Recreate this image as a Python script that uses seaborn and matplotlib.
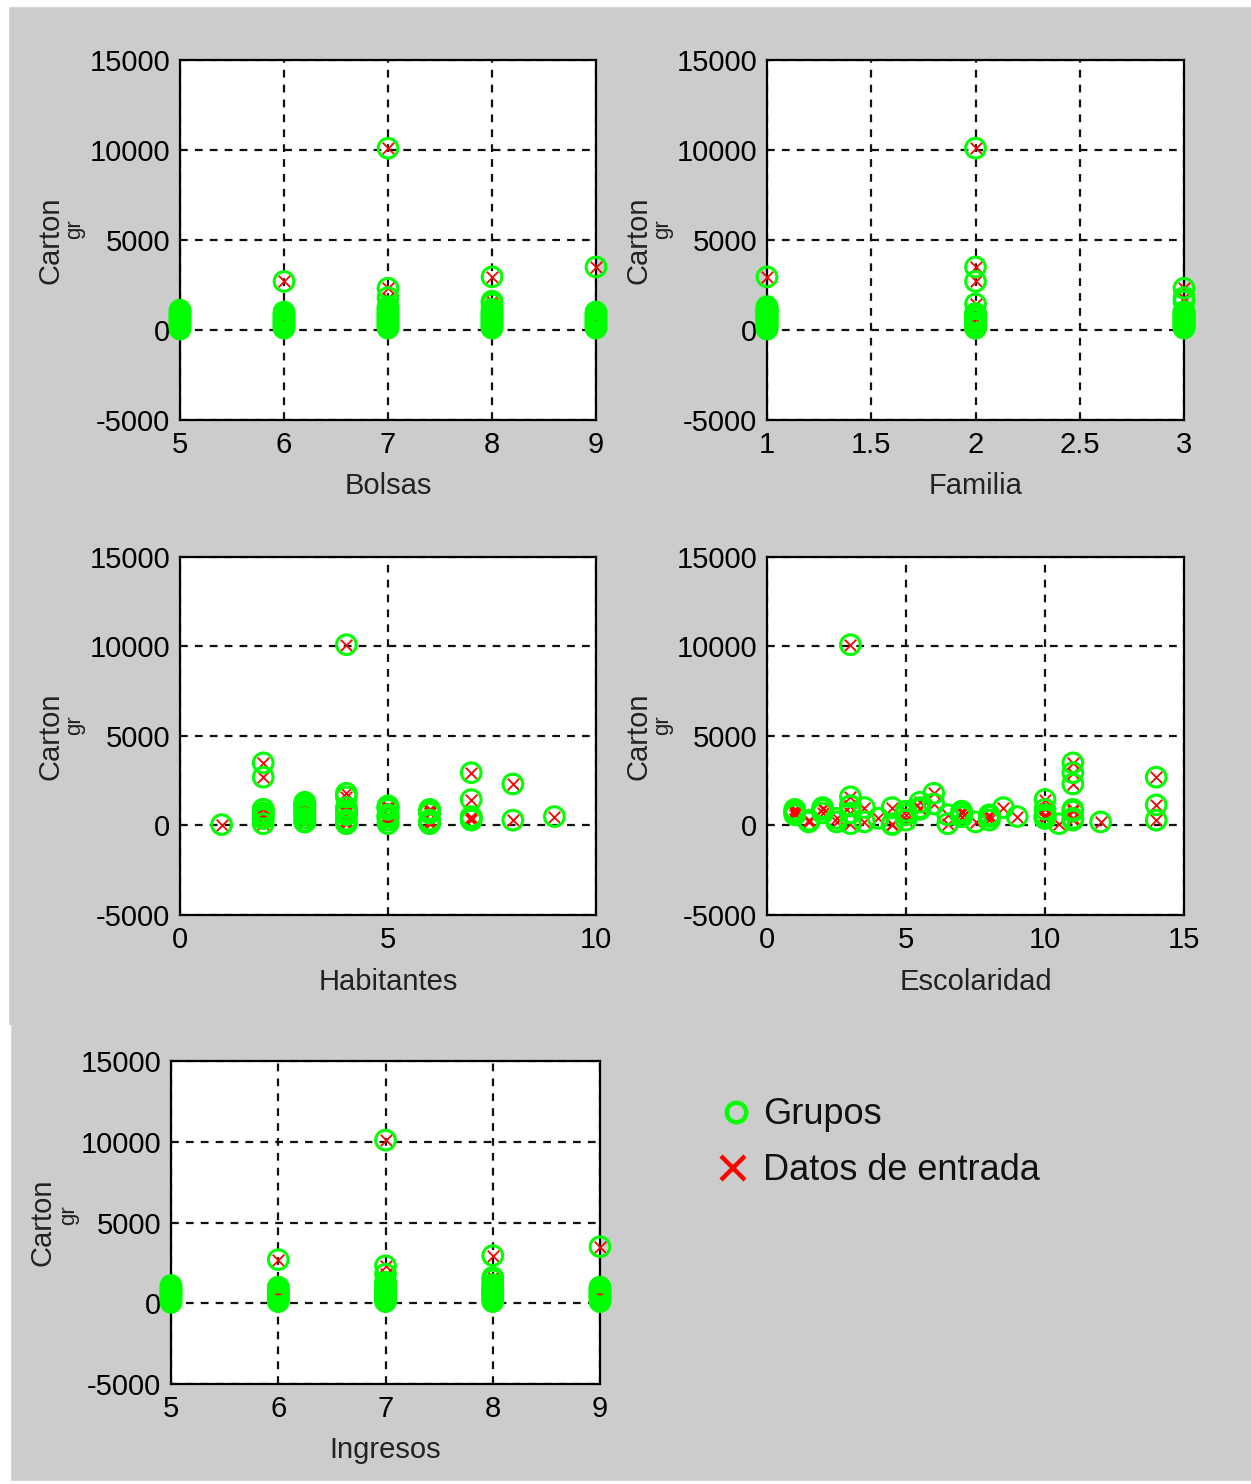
import matplotlib
matplotlib.use("Agg")
import matplotlib.pyplot as plt
import seaborn as sns
import pandas as pd
from matplotlib import font_manager
from matplotlib.patches import Rectangle
from matplotlib.ticker import FuncFormatter

# ---- data (one row per household) ----
carton = [10100, 3500, 2950, 2700, 2320, 1800, 1450, 1600,
          1100, 1000, 900, 800, 700, 600, 500, 400, 300, 200, 50,
          1000, 900, 800, 700, 600, 500, 400, 300, 200, 100,
          1300, 1200, 1100, 1000, 900, 800, 700, 600, 500, 400, 300, 200, 100,
          1150, 1000, 900, 800, 700, 600, 500, 400, 300, 200, 100,
          1000, 900, 800, 700, 600, 500, 400, 300, 200, 100]
bolsas = [7, 9, 8, 6, 7, 7, 8, 8,
          5, 5, 5, 5, 5, 5, 5, 5, 5, 5, 5,
          6, 6, 6, 6, 6, 6, 6, 6, 6, 6,
          7, 7, 7, 7, 7, 7, 7, 7, 7, 7, 7, 7, 7,
          8, 8, 8, 8, 8, 8, 8, 8, 8, 8, 8,
          9, 9, 9, 9, 9, 9, 9, 9, 9, 9]
familia = [2, 2, 1, 2, 3, 3, 2, 3,
           1, 1, 2, 3, 1, 2, 3, 1, 2, 3, 1,
           1, 3, 1, 1, 2, 3, 1, 2, 3, 2,
           1, 1, 1, 3, 3, 1, 2, 3, 1, 2, 3, 1, 2,
           1, 3, 2, 1, 3, 2, 1, 3, 1, 2, 3,
           3, 1, 2, 3, 1, 3, 2, 1, 3, 1]
habitantes = [4, 2, 7, 2, 8, 4, 7, 4,
              3, 5, 2, 6, 3, 4, 5, 2, 6, 3, 1,
              5, 3, 4, 6, 2, 5, 3, 7, 4, 6,
              3, 3, 5, 3, 2, 6, 4, 5, 7, 2, 8, 3, 5,
              3, 5, 6, 4, 2, 3, 9, 7, 5, 6, 4,
              4, 5, 3, 6, 2, 5, 7, 4, 3, 2]
escolaridad = [3, 11, 11, 14, 11, 6, 10, 3,
               3, 2, 1, 5, 7, 8, 10, 11, 1.5, 2.5, 4.5,
               3.5, 5.5, 7, 2, 1, 8, 10, 11, 7.5, 6.5,
               5.5, 6, 3, 4.5, 10, 11, 1, 5, 7, 4, 8, 3.5, 4.5,
               14, 8.5, 2, 1, 7, 10, 9, 2.5, 5, 1.5, 10.5,
               5.5, 11, 1, 3, 6.5, 7, 10, 14, 12, 3]
ingresos = [7, 9, 8, 6, 7, 7, 8, 8,
            5, 5, 5, 5, 5, 5, 5, 5, 5, 5, 5,
            6, 6, 6, 6, 6, 6, 6, 6, 6, 6,
            7, 7, 7, 7, 7, 7, 7, 7, 7, 7, 7, 7, 7,
            8, 8, 8, 8, 8, 8, 8, 8, 8, 8, 8,
            9, 9, 9, 9, 9, 9, 9, 9, 9, 9]

y_ticks = [-5000, 0, 5000, 10000, 15000]
legend_labels = ["Grupos", "Datos de entrada"]

df = pd.DataFrame({"Bolsas": bolsas, "Familia": familia, "Habitantes": habitantes,
                   "Escolaridad": escolaridad, "Ingresos": ingresos, "Carton": carton})

# ---- style ----
sns.set_style("white")
names = {f.name for f in font_manager.fontManager.ttflist}
if "Liberation Sans Narrow" in names:
    axis_font, fsize, gr_size = "Liberation Sans Narrow", 24, 18
else:
    axis_font, fsize, gr_size = "Liberation Sans", 21, 16
plt.rcParams["font.family"] = [axis_font, "DejaVu Sans"]
plt.rcParams["axes.unicode_minus"] = False

W, H = 1251, 1484
fig = plt.figure(figsize=(W / 100, H / 100), dpi=100)
fig.patch.set_facecolor("#cccccc")
# white screenshot borders
for (x0, y0, w, h) in [(0, 0, W, 6), (0, 0, 8, 1025), (0, 1025, 10, H - 1025), (0, H - 3, W, 3)]:
    fig.patches.append(Rectangle((x0 / W, 1 - (y0 + h) / H), w / W, h / H,
                                 transform=fig.transFigure, color="white", zorder=0))

# name, box (left, top, right, bottom in px), xlim, xticks, carton x, gr x, gr lift, xlabel top
panels = [
    ("Bolsas", (180, 60, 596, 420), (5, 9), [5, 6, 7, 8, 9], 50, 75, 11, 472),
    ("Familia", (767, 60, 1184, 420), (1, 3), [1, 1.5, 2, 2.5, 3], 638, 663, 11, 472),
    ("Habitantes", (180, 557, 596, 915), (0, 10), [0, 5, 10], 50, 75, 11, 968),
    ("Escolaridad", (767, 557, 1184, 915), (0, 15), [0, 5, 10, 15], 638, 663, 11, 968),
    ("Ingresos", (171, 1061, 600, 1384), (5, 9), [5, 6, 7, 8, 9], 43, 69, 7, 1436),
]

for name, (l, t, r, b), xlim, xticks, cx, gx, glift, xl_top in panels:
    ax = fig.add_axes([l / W, 1 - b / H, (r - l) / W, (b - t) / H])
    ax.set_facecolor("white")

    # input data (red x) under the group circles (green o)
    sns.scatterplot(data=df, x=name, y="Carton", ax=ax, marker="x", color="#ff0000",
                    s=70, linewidth=1.3, clip_on=False, zorder=3, legend=False)
    sns.scatterplot(data=df, x=name, y="Carton", ax=ax, marker="o", facecolors="none",
                    edgecolor="#00ff00", s=200, linewidth=2.2, clip_on=False, zorder=4,
                    legend=False)

    ax.set_xlim(*xlim)
    ax.set_ylim(-5000, 15000)
    ax.set_xticks(xticks)
    ax.set_yticks(y_ticks)
    ax.xaxis.set_major_formatter(FuncFormatter(lambda v, p: f"{v:g}"))
    ax.yaxis.set_major_formatter(FuncFormatter(lambda v, p: f"{v:g}"))
    ax.tick_params(direction="in", length=4, width=1, labelsize=fsize, colors="black")
    ax.tick_params(axis="x", pad=8)
    ax.tick_params(axis="y", pad=7)
    ax.grid(True, color="#111111", linestyle=(0, (3.5, 3.2)), linewidth=1.6)
    ax.set_axisbelow(True)
    for sp in ax.spines.values():
        sp.set_color("black")
        sp.set_linewidth(1.6)

    ax.set_xlabel(name, fontsize=fsize, color="#222222")
    ax.xaxis.set_label_coords(0.5, -(xl_top - b) / (b - t))
    ax.set_ylabel("")
    wpx, hpx = r - l, b - t
    ax.text((cx - l) / wpx, 0.5, "Carton", transform=ax.transAxes, rotation=90,
            ha="center", va="center", fontsize=fsize, color="#222222")
    ax.text((gx - l) / wpx, 0.5 + glift / hpx, "gr", transform=ax.transAxes, rotation=90,
            ha="center", va="center", fontsize=gr_size, color="#222222")

# legend drawn in the empty lower right area
lax = fig.add_axes([0, 0, 1, 1])
lax.set_xlim(0, W)
lax.set_ylim(H, 0)
lax.axis("off")
lax.plot([736], [1112], ls="none", marker="o", mfc="none", mec="#00ff00", ms=14, mew=3.2)
lax.plot([733], [1168], ls="none", marker="x", color="#ff0000", ms=17, mew=3.2)
lax.text(763, 1114, legend_labels[0], va="center", ha="left", fontsize=26,
         family=["Liberation Sans", "DejaVu Sans"], color="#111111")
lax.text(763, 1170, legend_labels[1], va="center", ha="left", fontsize=26,
         family=["Liberation Sans", "DejaVu Sans"], color="#111111")

fig.savefig("out.png", dpi=100, facecolor=fig.get_facecolor())
